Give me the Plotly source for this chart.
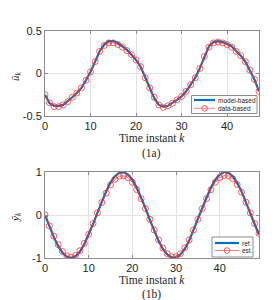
import plotly.graph_objects as go
from plotly.subplots import make_subplots

k_top = list(range(48))
u_model = [-0.25, -0.35, -0.38, -0.38, -0.37, -0.33, -0.28, -0.23, -0.17, -0.08,
           0.02, 0.14, 0.26, 0.34, 0.38, 0.38, 0.36, 0.32, 0.28, 0.22,
           0.16, 0.08, -0.05, -0.18, -0.29, -0.37, -0.39, -0.38, -0.35, -0.31,
           -0.27, -0.21, -0.13, -0.05, 0.06, 0.20, 0.32, 0.37, 0.38, 0.37,
           0.35, 0.32, 0.27, 0.21, 0.14, 0.04, -0.07, -0.21]
u_data = [-0.25, -0.345, -0.39, -0.39, -0.37, -0.33, -0.28, -0.23, -0.17, -0.08,
          0.02, 0.14, 0.26, 0.33, 0.36, 0.36, 0.34, 0.31, 0.27, 0.22,
          0.16, 0.08, -0.05, -0.17, -0.28, -0.37, -0.40, -0.38, -0.35, -0.31,
          -0.27, -0.21, -0.13, -0.05, 0.06, 0.20, 0.31, 0.36, 0.37, 0.36,
          0.34, 0.31, 0.26, 0.21, 0.14, 0.04, -0.07, -0.21]

k_bot = list(range(50))
y_ref = [0.0, -0.26, -0.51, -0.72, -0.88, -0.97, -1.0, -0.96, -0.85, -0.68,
         -0.46, -0.21, 0.05, 0.31, 0.55, 0.76, 0.90, 0.98, 1.0, 0.94,
         0.82, 0.64, 0.41, 0.16, -0.11, -0.36, -0.60, -0.79, -0.92, -0.99,
         -0.99, -0.92, -0.79, -0.60, -0.36, -0.11, 0.16, 0.41, 0.64, 0.82,
         0.94, 1.0, 0.98, 0.90, 0.75, 0.55, 0.31, 0.05, -0.21, -0.46]
y_est = [0.0, -0.25, -0.49, -0.69, -0.85, -0.95, -0.98, -0.94, -0.83, -0.66,
         -0.45, -0.20, 0.05, 0.29, 0.51, 0.70, 0.83, 0.90, 0.91, 0.87,
         0.76, 0.59, 0.38, 0.15, -0.10, -0.35, -0.58, -0.77, -0.90, -0.97,
         -0.97, -0.90, -0.76, -0.58, -0.35, -0.10, 0.15, 0.38, 0.59, 0.76,
         0.87, 0.92, 0.91, 0.84, 0.71, 0.53, 0.30, 0.05, -0.20, -0.43]

x_ticks = [0, 10, 20, 30, 40]
top_names = ["model-based", "data-based"]
bot_names = ["ref.", "est."]

BLUE = "#0072BD"
RED = "rgba(255,40,40,0.75)"

fig = make_subplots(rows=2, cols=1, vertical_spacing=0.0)

fig.add_trace(go.Scatter(x=k_top, y=u_model, mode="lines", name=top_names[0],
                         line=dict(color=BLUE, width=2.2)), row=1, col=1)
fig.add_trace(go.Scatter(x=k_top, y=u_data, mode="lines+markers", name=top_names[1],
                         line=dict(color=RED, width=0.8),
                         marker=dict(symbol="circle-open", size=6, color=RED, line=dict(width=1))),
              row=1, col=1)
fig.add_trace(go.Scatter(x=k_bot, y=y_ref, mode="lines", name=bot_names[0],
                         line=dict(color=BLUE, width=2.2)), row=2, col=1)
fig.add_trace(go.Scatter(x=k_bot, y=y_est, mode="lines+markers", name=bot_names[1],
                         line=dict(color=RED, width=0.8),
                         marker=dict(symbol="circle-open", size=6, color=RED, line=dict(width=1))),
              row=2, col=1)

axis_common = dict(showline=True, mirror="ticks", linecolor="#8c8c8c", linewidth=1,
                   showgrid=True, gridcolor="#e3e3e3", gridwidth=1,
                   ticks="inside", ticklen=3, tickcolor="#8c8c8c",
                   zeroline=False, tickfont=dict(family="Liberation Sans", size=11, color="#262626"))

ML, MR, MT, MB, W, H = 37, 26, 23, 50, 277, 300
PW = W - ML - MR
PH = H - MT - MB


def px(p):
    return (p - ML) / PW


def py(p):
    return (H - MB - p) / PH


top_dom = [py(108), 1.0]
bot_dom = [0.0, py(164)]

fig.update_xaxes(axis_common, row=1, col=1, range=[0, 47], tickvals=x_ticks)
fig.update_xaxes(axis_common, row=2, col=1, range=[0, 49], tickvals=x_ticks)
fig.update_yaxes(axis_common, row=1, col=1, range=[-0.5, 0.5], tickvals=[-0.5, 0, 0.5],
                 ticktext=["-0.5", "0", "0.5"], domain=top_dom)
fig.update_yaxes(axis_common, row=2, col=1, range=[-1, 1], tickvals=[-1, 0, 1],
                 ticktext=["-1", "0", "1"], domain=bot_dom)

serif = dict(family="Liberation Serif", size=11.5, color="#262626")
ann = []
shapes = []
for txt, yy in [("Time instant <i>k</i>", 130), ("(1a)", 145),
                ("Time instant <i>k</i>", 271.5), ("(1b)", 286.5)]:
    ann.append(dict(text=txt, x=px(143.5), y=py(yy), xref="paper", yref="paper",
                    showarrow=False, font=serif, xanchor="center", yanchor="middle"))
ann.append(dict(text="<i>ū<sub>k</sub></i>", x=px(8), y=py(68), xref="paper", yref="paper",
                showarrow=False, font=dict(family="Liberation Serif", size=11, color="#262626"),
                textangle=-90, xanchor="center", yanchor="middle"))
ann.append(dict(text="<i>ȳ<sub>k</sub></i>", x=px(8), y=py(209), xref="paper", yref="paper",
                showarrow=False, font=dict(family="Liberation Serif", size=11, color="#262626"),
                textangle=-90, xanchor="center", yanchor="middle"))


def legend_box(x0, x1, y0, y1, names, lx0, lx1, tx, rows_y, cx):
    shapes.append(dict(type="rect", xref="paper", yref="paper",
                       x0=px(x0), x1=px(x1), y0=py(y1), y1=py(y0),
                       fillcolor="white", line=dict(color="#8c8c8c", width=1), layer="above"))
    # first entry: blue line
    shapes.append(dict(type="line", xref="paper", yref="paper",
                       x0=px(lx0), x1=px(lx1), y0=py(rows_y[0]), y1=py(rows_y[0]),
                       line=dict(color=BLUE, width=2.2), layer="above"))
    # second entry: red line + circle
    shapes.append(dict(type="line", xref="paper", yref="paper",
                       x0=px(lx0), x1=px(lx1), y0=py(rows_y[1]), y1=py(rows_y[1]),
                       line=dict(color=RED, width=0.8), layer="above"))
    shapes.append(dict(type="circle", xref="paper", yref="paper",
                       x0=px(cx - 2.8), x1=px(cx + 2.8), y0=py(rows_y[1] + 2.8), y1=py(rows_y[1] - 2.8),
                       line=dict(color=RED, width=1), fillcolor="rgba(0,0,0,0)", layer="above"))
    for nm, ry in zip(names, rows_y):
        ann.append(dict(text=nm, x=px(tx), y=py(ry), xref="paper", yref="paper",
                        showarrow=False, xanchor="left", yanchor="middle",
                        font=dict(family="Liberation Sans", size=6.5, color="#262626")))


legend_box(183.5, 249, 87.5, 105.5, top_names, 186, 207, 207.5, [92, 100.3], 196.5)
legend_box(204, 245, 229, 249, bot_names, 207, 231, 231.5, [235, 242.5], 219)

fig.update_layout(
    width=W, height=H,
    margin=dict(l=ML, r=MR, t=MT, b=MB),
    paper_bgcolor="white", plot_bgcolor="white",
    showlegend=False,
    annotations=ann,
    shapes=shapes,
)

fig.write_html("out.html")
